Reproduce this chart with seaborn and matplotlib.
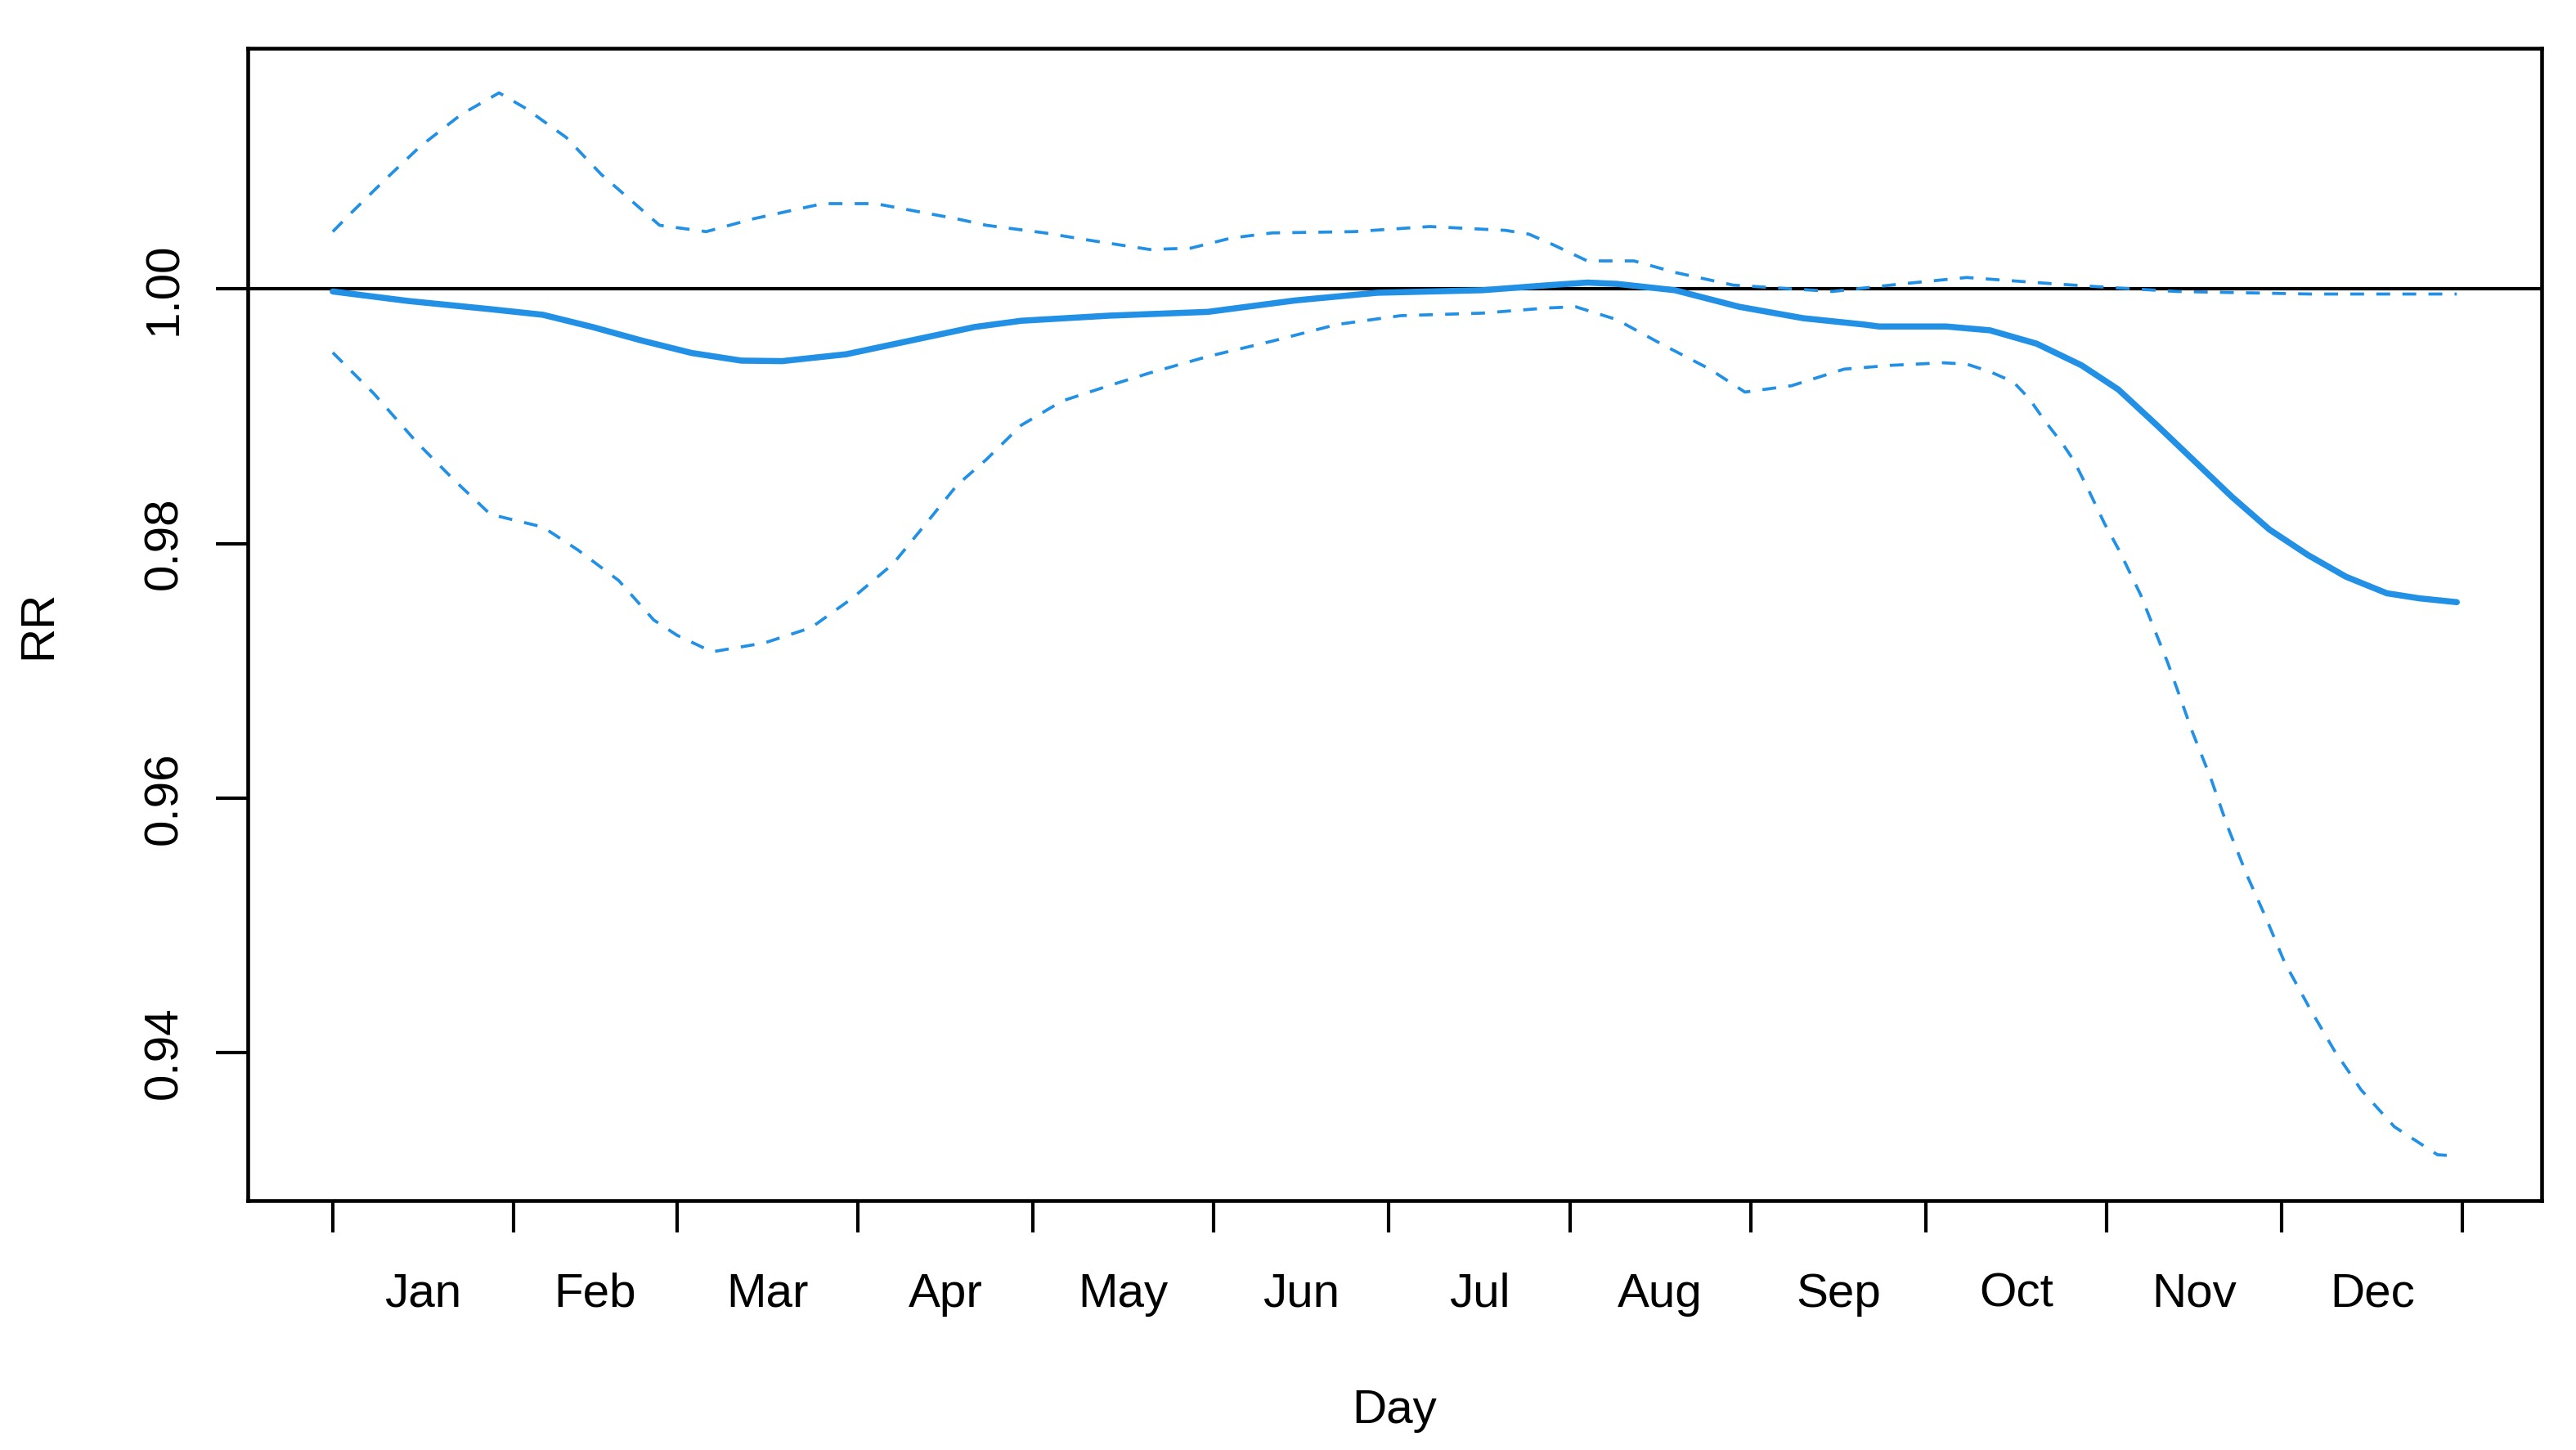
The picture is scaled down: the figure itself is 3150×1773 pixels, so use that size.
import numpy as np
import pandas as pd
import seaborn as sns
import matplotlib
matplotlib.use("Agg")
import matplotlib.pyplot as plt

# day of year -> relative risk
solid_day = [1, 14, 28, 37, 45.5, 54, 62.5, 71, 78, 89, 100, 111, 119, 134, 151, 166,
             180, 198, 209.6, 216, 221, 231, 242, 253, 263.5, 266, 277.5, 285, 293,
             300.7, 307, 313.6, 320, 326.4, 332.9, 339.5, 346, 353, 358.6, 365]
solid_rr = [0.9998, 0.99905, 0.99841, 0.99797, 0.99701, 0.99594, 0.99497, 0.99437,
            0.99433, 0.99487, 0.99594, 0.99701, 0.9975, 0.9979, 0.9982, 0.9991,
            0.9997, 0.9999, 1.0003, 1.0005, 1.0004, 0.9999, 0.9986, 0.9977, 0.9972,
            0.99705, 0.99705, 0.99675, 0.9957, 0.9940, 0.9921, 0.9893, 0.9865,
            0.9837, 0.9811, 0.9791, 0.9774, 0.9761, 0.9757, 0.9754]

upper_day = [1, 4, 10, 16, 23, 29.5, 34, 41, 47, 53, 57, 65, 73, 85, 94, 101, 108,
             113, 123, 131, 141, 148, 155, 162, 176, 189, 202, 206, 210, 216, 224,
             231, 241, 258, 270, 281, 296, 306, 317, 340, 365]
upper_rr = [1.0045, 1.0059, 1.0086, 1.0112, 1.0137, 1.0154, 1.0142, 1.0119, 1.0090,
            1.0066, 1.0050, 1.0045, 1.0055, 1.0067, 1.0067, 1.0061, 1.0055, 1.0050,
            1.0044, 1.0038, 1.0031, 1.0032, 1.0040, 1.0044, 1.0045, 1.0049, 1.0046,
            1.0043, 1.0035, 1.0022, 1.0022, 1.0013, 1.0003, 0.9998, 1.0004, 1.0009,
            1.0004, 1.0001, 0.9998, 0.9996, 0.9996]

lower_day = [1, 8, 15.5, 22, 28, 37, 43, 50, 56, 60, 66, 75, 83, 90, 97, 102, 108,
             113, 119, 126, 134, 141, 151, 162, 173, 184, 198, 209, 214, 221, 229,
             237, 243, 251, 260, 268, 277, 281, 285, 289, 291.7, 294.3, 297.5, 299.4,
             302, 304.6, 307.1, 310.8, 315.5, 319.7, 322.9, 325.7, 329, 332.3, 335.5,
             339.8, 344, 348.6, 354.3, 361.7, 365]
lower_rr = [0.9950, 0.9918, 0.9879, 0.9849, 0.9823, 0.9813, 0.9795, 0.9771, 0.9740,
            0.9728, 0.9715, 0.9722, 0.9734, 0.9757, 0.9784, 0.9812, 0.9846, 0.9866,
            0.9893, 0.9912, 0.9924, 0.9934, 0.9947, 0.9959, 0.9972, 0.9979, 0.9981,
            0.9985, 0.9986, 0.9976, 0.9956, 0.9937, 0.9919, 0.9924, 0.9937, 0.9940,
            0.9942, 0.9941, 0.9935, 0.9927, 0.9914, 0.9897, 0.9878, 0.9865, 0.9841,
            0.9816, 0.9795, 0.9760, 0.9706, 0.9652, 0.9615, 0.9578, 0.9540, 0.9506,
            0.9471, 0.9435, 0.9402, 0.9371, 0.9342, 0.9320, 0.9319]

month_starts = [1, 32, 60, 91, 121, 152, 182, 213, 244, 274, 305, 335, 366]
month_labels = ["Jan", "Feb", "Mar", "Apr", "May", "Jun",
                "Jul", "Aug", "Sep", "Oct", "Nov", "Dec"]
y_ticks = [0.94, 0.96, 0.98, 1.00]

sns.set_style("white")
plt.rcParams['font.family'] = ['Liberation Sans', 'DejaVu Sans']
plt.rcParams['text.color'] = 'black'
plt.rcParams['axes.labelcolor'] = 'black'
plt.rcParams['xtick.color'] = 'black'
plt.rcParams['ytick.color'] = 'black'

blue = "#2190E5"
df_fit = pd.DataFrame({"day": solid_day, "rr": solid_rr})
df_up = pd.DataFrame({"day": upper_day, "rr": upper_rr})
df_lo = pd.DataFrame({"day": lower_day, "rr": lower_rr})

fig = plt.figure(figsize=(10.5, 5.91), dpi=300)
ax = fig.add_axes([0.0962, 0.1720, 0.8905, 0.7947])

ax.axhline(1.0, color="black", lw=1.0, zorder=1)
sns.lineplot(data=df_up, x="day", y="rr", ax=ax, color=blue, lw=0.9,
             linestyle=(0, (4.5, 4)), zorder=2)
sns.lineplot(data=df_lo, x="day", y="rr", ax=ax, color=blue, lw=0.9,
             linestyle=(0, (4.5, 4)), zorder=2)
sns.lineplot(data=df_fit, x="day", y="rr", ax=ax, color=blue, lw=1.8,
             solid_capstyle="round", solid_joinstyle="round", zorder=3)

ax.set_xlim(-13.56, 379.56)
ax.set_ylim(0.9284, 1.0189)

# month boundaries as ticks, names in between
ax.set_xticks(month_starts)
ax.set_xticklabels([""] * len(month_starts))
mids = [(month_starts[i] + month_starts[i + 1]) / 2 for i in range(12)]
ax.set_xticks(mids, minor=True)
ax.set_xticklabels(month_labels, minor=True, fontsize=14)
ax.tick_params(axis="x", which="major", direction="out", length=9.4, width=1.0,
               color="black", bottom=True)
ax.tick_params(axis="x", which="minor", length=0, pad=21)

ax.set_yticks(y_ticks)
ax.set_yticklabels(["%.2f" % v for v in y_ticks], fontsize=14, rotation=90, va="center")
ax.tick_params(axis="y", which="major", direction="out", length=9.4, width=1.0,
               color="black", left=True, pad=8.5)

for s in ax.spines.values():
    s.set_color("black")
    s.set_linewidth(1.1)

ax.set_xlabel("Day", fontsize=14)
ax.set_ylabel("RR", fontsize=14)
ax.xaxis.set_label_coords(0.5, -0.163)
ax.yaxis.set_label_coords(-0.0816, 0.5)

fig.savefig("out.png", dpi=300)
